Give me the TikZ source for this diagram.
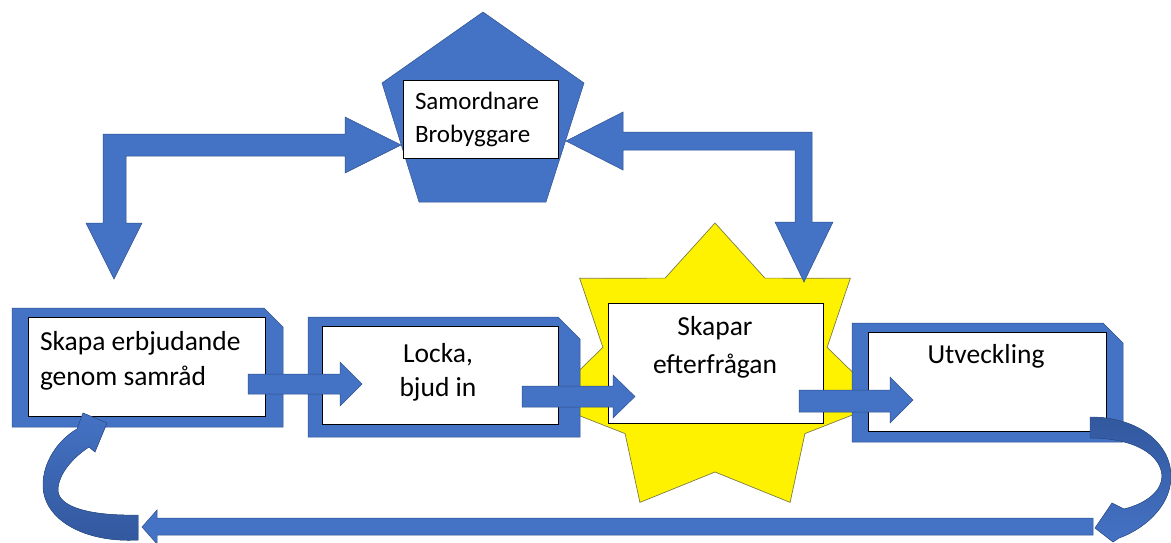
\documentclass[tikz,border=0pt]{standalone}
\usepackage{fontspec}
\setmainfont{Carlito}
\definecolor{oblue}{RGB}{68,114,196}
\definecolor{oline}{RGB}{47,82,143}
\definecolor{odark}{RGB}{50,88,158}
\definecolor{starline}{RGB}{125,125,70}
\begin{document}
\begin{tikzpicture}[x=1pt,y=-1pt,
  blk/.style={fill=oblue, draw=oline, line width=0.5pt, line join=miter},
  framebox/.style={fill=oblue, draw=oline, line width=0.5pt},
  wbox/.style={draw=black, fill=white, line width=0.9pt, inner sep=0pt, outer sep=0pt},
  txt/.style={inner sep=0pt, outer sep=0pt, text=black}]
\useasboundingbox (0,0) rectangle (1171,542);
\fill[white] (0,0) rectangle (1171,542);

% star
\filldraw[fill=yellow, draw=starline, line width=0.7pt]
  (715,223) -- (764.9,278.1) -- (850.3,278.3) -- (827.1,347.3) -- (883.7,402.7)
  -- (804.9,433.6) -- (790.1,502.4) -- (715,472) -- (639.9,502.4) -- (625.1,433.6)
  -- (546.3,402.7) -- (602.9,347.3) -- (579.7,278.3) -- (665.1,278.1) -- cycle;

% pentagon
\filldraw[blk] (483,12) -- (584,83) -- (546,202) -- (419,202) -- (382,83) -- cycle;

% snipped frames
\filldraw[framebox] (12,308) -- (264,308) -- (283,327) -- (283,427) -- (12,427) -- cycle;
\filldraw[framebox] (308,317) -- (558,317) -- (580,339) -- (580,437) -- (308,437) -- cycle;
\filldraw[framebox] (852,323) -- (1103,323) -- (1123,343) -- (1123,442) -- (852,442) -- cycle;

% white boxes
\node[wbox, minimum width=237pt, minimum height=99pt] (b1) at (146.5,366.5) {};
\node[wbox, minimum width=236pt, minimum height=98pt] (b2) at (440,375) {};
\node[wbox, minimum width=238pt, minimum height=99pt] (b3) at (987,381.5) {};
\node[wbox, minimum width=215pt, minimum height=120pt] (bs) at (715.5,363) {};
\node[wbox, minimum width=155pt, minimum height=78pt] (bp) at (480.5,119) {};

% texts (base anchor = baseline of the last line)
\node[txt, anchor=base west, align=left, font=\fontsize{27.5}{35}\selectfont] (t1) at (40,385) {Skapa erbjudande\\genom samråd};
\node[txt, anchor=base, align=center, font=\fontsize{27.5}{34}\selectfont] (t2) at (438,396) {Locka,\\bjud in};
\node[txt, anchor=base, align=center, font=\fontsize{27.5}{38}\selectfont] (ts) at (715,373) {Skapar\\efterfrågan};
\node[txt, anchor=base, font=\fontsize{27.5}{34}\selectfont] (t3) at (986,363) {Utveckling};
\node[txt, anchor=base west, align=left, font=\fontsize{25}{33}\selectfont] (tp) at (415,142) {Samordnare\\Brobyggare};

% bent arrow left
\filldraw[blk] (103,134) -- (345,134) -- (345,117) -- (401,145) -- (345,173) -- (345,156)
  -- (126,156) -- (126,223) -- (142,223) -- (114,279) -- (86,223) -- (103,223) -- cycle;
% bent arrow right
\filldraw[blk] (566,141) -- (623,112) -- (623,132) -- (812,132) -- (812,222) -- (833,222)
  -- (804,282) -- (775,222) -- (795,222) -- (795,150) -- (623,150) -- (623,170) -- cycle;

% straight arrows
\filldraw[blk] (248,374) -- (340,374) -- (340,362) -- (362,384) -- (340,406) -- (340,394) -- (248,394) -- cycle;
\filldraw[blk] (522,386) -- (613,386) -- (613,375) -- (635,396.5) -- (613,418) -- (613,407) -- (522,407) -- cycle;
\filldraw[blk] (799,390) -- (890,390) -- (890,377) -- (913,400) -- (890,423) -- (890,412) -- (799,412) -- cycle;

% curved arrow left
\filldraw[draw=oline, line width=0.5pt, top color=oblue, bottom color=odark]
  (138,540) .. controls (85,543) and (43,520) .. (43,485)
  .. controls (43,462) and (58,440) .. (77,429) -- (83,413) -- (107,423) -- (95,452) -- (89,447)
  .. controls (72,458) and (58,475) .. (58,490)
  .. controls (58,507) and (90,516) .. (138,515) -- cycle;

% curved arrow right
\filldraw[draw=oline, line width=0.5pt, top color=odark, bottom color=oblue]
  (1090,417) .. controls (1140,417) and (1172,445) .. (1171,478)
  .. controls (1170,508) and (1142,530) .. (1119,538) -- (1113,542) -- (1095,528) -- (1112,503) -- (1124,509)
  .. controls (1148,503) and (1162,490) .. (1162,476)
  .. controls (1161,455) and (1135,438) .. (1090,438) -- cycle;

% bottom arrow
\filldraw[blk] (1093,518) -- (157,518) -- (157,510) -- (142,527) -- (157,544) -- (157,535) -- (1093,535) -- cycle;
\end{tikzpicture}
\end{document}
